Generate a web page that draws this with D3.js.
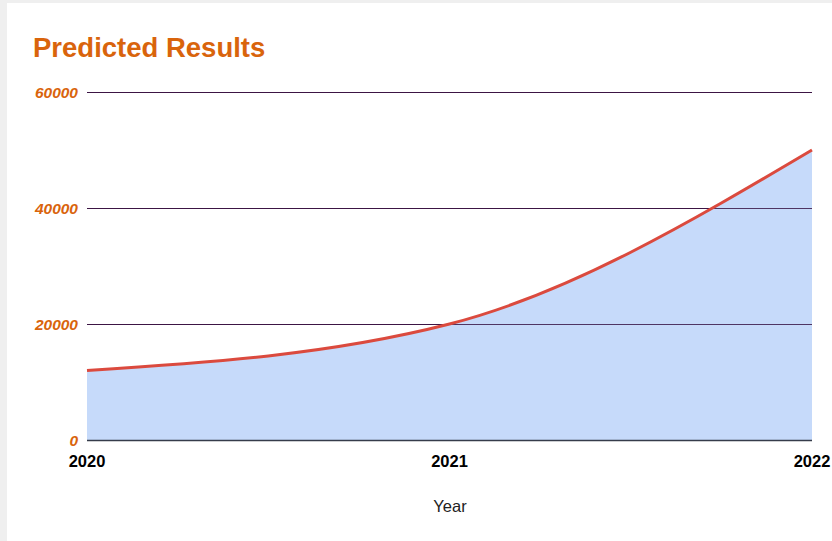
<!DOCTYPE html>
<html>
<head>
<meta charset="utf-8">
<script src="https://cdn.jsdelivr.net/npm/d3@7"></script>
<style>
  html, body { margin: 0; padding: 0; background: #efefef; }
  #canvas { position: absolute; left: 7px; top: 3px; background: #fff; }
  text { font-family: "Liberation Sans", Arial, sans-serif; }
</style>
</head>
<body>
<svg id="canvas" width="825" height="538"></svg>
<script>
// data
let years = [2020, 2021, 2022]
let predicted = [12000, 20000, 50000]
let yTicks = [0, 20000, 40000, 60000]

let svg = d3.select("#canvas")
let ox = -7, oy = -3 // page coords -> svg coords

let x = d3.scalePoint().domain(years).range([87 + ox, 812 + ox])
let y = d3.scaleLinear().domain([0, 60000]).range([440 + oy, 92 + oy])

svg.append("text")
  .attr("x", 33 + ox).attr("y", 57 + oy)
  .attr("fill", "#d9640c")
  .style("font-size", "27.5px").style("font-weight", "bold")
  .text("Predicted Results")

// gridlines
svg.append("g").selectAll("line")
  .data(yTicks.filter(t => t > 0))
  .enter().append("line")
  .attr("x1", x.range()[0]).attr("x2", x.range()[1])
  .attr("y1", d => y(d) + 0.5).attr("y2", d => y(d) + 0.5)
  .attr("stroke", "#4a0d32").attr("stroke-width", 1)

// y labels
svg.append("g").selectAll("text")
  .data(yTicks)
  .enter().append("text")
  .attr("x", 78 + ox).attr("y", d => y(d) + 5.5)
  .attr("text-anchor", "end")
  .attr("fill", "#d9640c")
  .style("font-size", "15.5px").style("font-weight", "bold").style("font-style", "italic")
  .text(d => d)

let pts = years.map((yr, i) => ({ yr: yr, v: predicted[i] }))

let area = d3.area()
  .x(d => x(d.yr)).y0(y(0)).y1(d => y(d.v))
  .curve(d3.curveMonotoneX)

svg.append("path").datum(pts)
  .attr("d", area)
  .attr("fill", "#c6dafa")

// gridlines over area
svg.append("g").selectAll("line")
  .data(yTicks.filter(t => t > 0))
  .enter().append("line")
  .attr("x1", x.range()[0]).attr("x2", x.range()[1])
  .attr("y1", d => y(d) + 0.5).attr("y2", d => y(d) + 0.5)
  .attr("stroke", "#3a1848").attr("stroke-opacity", 0.85).attr("stroke-width", 1)

// baseline
svg.append("line")
  .attr("x1", x.range()[0]).attr("x2", x.range()[1])
  .attr("y1", y(0) + 0.5).attr("y2", y(0) + 0.5)
  .attr("stroke", "#363c4a").attr("stroke-width", 1.4)

let line = d3.line()
  .x(d => x(d.yr)).y(d => y(d.v))
  .curve(d3.curveMonotoneX)

svg.append("path").datum(pts)
  .attr("d", line)
  .attr("fill", "none")
  .attr("stroke", "#db4a3e")
  .attr("stroke-width", 3)

// x labels
svg.append("g").selectAll("text")
  .data(years)
  .enter().append("text")
  .attr("x", d => x(d)).attr("y", 467 + oy)
  .attr("text-anchor", "middle")
  .attr("fill", "#000")
  .style("font-size", "16.5px").style("font-weight", "bold")
  .text(d => d)

svg.append("text")
  .attr("x", 450 + ox).attr("y", 512 + oy)
  .attr("text-anchor", "middle")
  .attr("fill", "#222")
  .style("font-size", "16.5px")
  .text("Year")
</script>
</body>
</html>
